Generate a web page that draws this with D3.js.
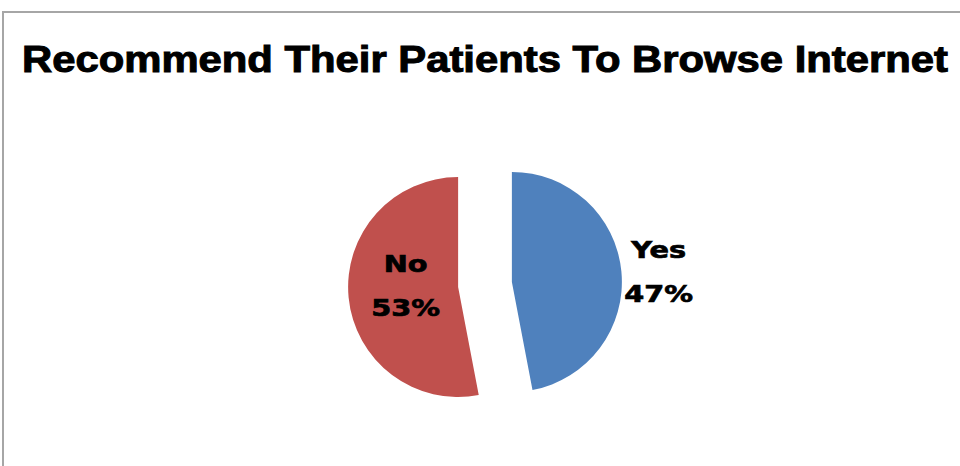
<!DOCTYPE html>
<html><head><meta charset="utf-8">
<script src="https://cdn.jsdelivr.net/npm/d3@7"></script>
<style>html,body{margin:0;padding:0;background:#fff;overflow:hidden}</style>
</head><body>
<svg id="chart" width="960" height="466"></svg>
<script>
const title = "Recommend Their Patients To Browse Internet";
const categories = ["Yes", "No"];
const values = [47, 53];
const colors = ["#4F81BD", "#C0504D"];

// layout constants (label radius as factor of r, vertical nudge in px)
const labelLayout = [{rf: 1.34, dy: 4}, {rf: 0.48, dy: -6}];

const svg = d3.select("#chart");
svg.append("rect").attr("width", 960).attr("height", 466).attr("fill", "#fff");
svg.append("path").attr("d", "M3,466 L3,12 L960,12").attr("fill", "none")
  .attr("stroke", "#a6a6a6").attr("stroke-width", 2);

svg.append("text").attr("x", 22).attr("y", 72)
  .attr("font-family", "Liberation Sans, Arial, sans-serif").attr("font-weight", "bold")
  .attr("font-size", 36).attr("textLength", 926).attr("lengthAdjust", "spacingAndGlyphs")
  .attr("fill", "#000").attr("stroke", "#000").attr("stroke-width", 1)
  .text(title);

const cx = 485, cy = 284.5, r = 110, explode = 27;
const pie = d3.pie().sort(null).value(d => d)(values);
const arc = d3.arc().innerRadius(0).outerRadius(r);

const g = svg.append("g").attr("transform", `translate(${cx},${cy})`);
pie.forEach((p, i) => {
  const mid = (p.startAngle + p.endAngle) / 2;
  const ox = Math.sin(mid) * explode, oy = -Math.cos(mid) * explode;
  const sg = g.append("g").attr("transform", `translate(${ox},${oy})`);
  sg.append("path").attr("d", arc(p)).attr("fill", colors[i]);
  const lr = r * labelLayout[i].rf;
  const lx = Math.sin(mid) * lr, ly = -Math.cos(mid) * lr + labelLayout[i].dy;
  [categories[i], values[i] + "%"].forEach((s, k) => {
    const t = sg.append("text").attr("x", lx).attr("y", ly + (k === 0 ? -14 : 30))
      .attr("text-anchor", "middle")
      .attr("font-family", "DejaVu Sans, sans-serif").attr("font-weight", "bold")
      .attr("font-size", 23).attr("fill", "#000").attr("stroke", "#000")
      .attr("stroke-width", 0.7).text(s);
    const w = t.node().getComputedTextLength();
    t.attr("textLength", w * 1.25).attr("lengthAdjust", "spacingAndGlyphs");
  });
});
</script>
</body></html>
